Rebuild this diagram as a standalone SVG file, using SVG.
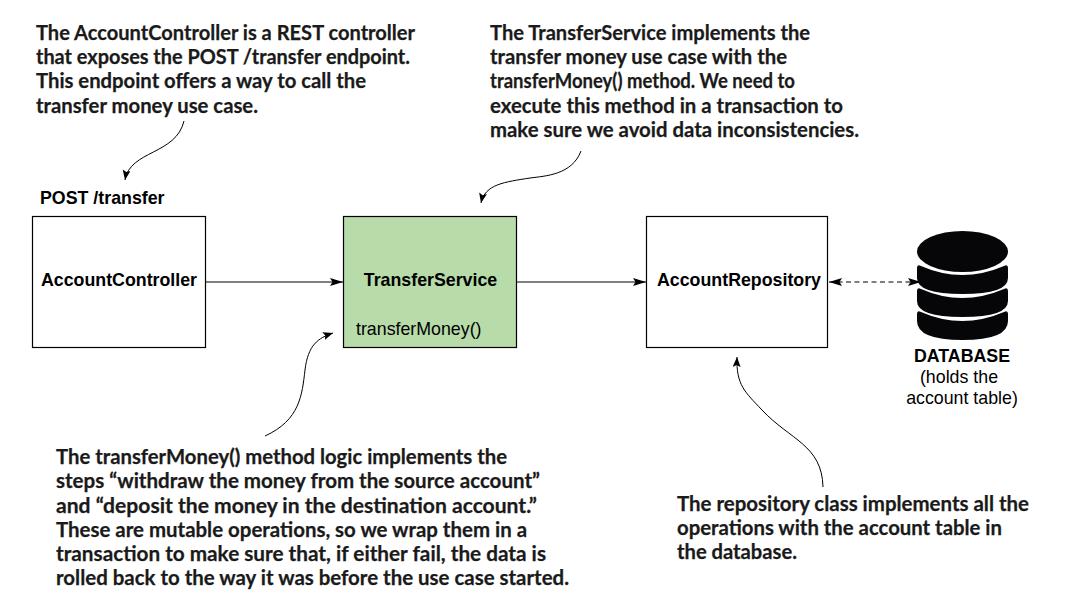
<svg xmlns="http://www.w3.org/2000/svg" width="1076" height="602" viewBox="0 0 1076 602">
<style>
.note{font-family:"Lato","Open Sans",sans-serif;font-weight:700;font-size:21px;fill:#1a1a1a;stroke:#1a1a1a;stroke-width:.25}
.lab{font-family:"Liberation Sans",Arial,sans-serif;font-size:17.800px;fill:#000}
.b{font-weight:700}
.box{stroke:#000;stroke-width:1.2;fill:#fff}
.c{fill:none;stroke:#000;stroke-width:1}
.d{fill:none;stroke:#000;stroke-width:1.200;stroke-dasharray:5 3.500}
.db{fill:#060608}
</style>
<defs>
<marker id="a" markerUnits="userSpaceOnUse" markerWidth="14" markerHeight="10" refX="13" refY="4" orient="auto"><path d="M0 0L13 4L0 8L2.500 4Z" fill="#000"/></marker>
<marker id="s" markerUnits="userSpaceOnUse" markerWidth="15" markerHeight="10" refX="1" refY="4" orient="auto"><path d="M14 0L1 4L14 8L11.500 4Z" fill="#000"/></marker>
<marker id="t" markerUnits="userSpaceOnUse" markerWidth="12" markerHeight="10" refX="10" refY="4" orient="auto"><path d="M0 0L10 4L0 8L2 4Z" fill="#000"/></marker>
</defs>
<g id="connectors">
<path class="c" d="M206 282H343" marker-end="url(#a)"/>
<path class="c" d="M517 282H646" marker-end="url(#a)"/>
<path class="c" d="M184 121C176 155 130 150 125 180" marker-end="url(#t)"/>
<path class="c" d="M581 151C572 175 545 176 530 178C505 182 485 184 481 203" marker-end="url(#t)"/>
<path class="c" d="M265 436C300 420 302 395 305 370C308 345 318 338 333 333" marker-end="url(#t)"/>
<path class="c" d="M823 487C822 445 790 440 762 410C745 392 736 385 737 357" marker-end="url(#t)"/>
</g>
<g id="note1" class="note">
<text x="36" y="39.500" textLength="379" lengthAdjust="spacingAndGlyphs">The AccountController is a REST controller</text>
<text x="36" y="64" textLength="374" lengthAdjust="spacingAndGlyphs">that exposes the POST /transfer endpoint.</text>
<text x="36" y="88" textLength="330" lengthAdjust="spacingAndGlyphs">This endpoint offers a way to call the</text>
<text x="36" y="112.500" textLength="222" lengthAdjust="spacingAndGlyphs">transfer money use case.</text>
</g>
<g id="note2" class="note">
<text x="490" y="39.500" textLength="320" lengthAdjust="spacingAndGlyphs">The TransferService implements the</text>
<text x="490" y="64" textLength="297" lengthAdjust="spacingAndGlyphs">transfer money use case with the</text>
<text x="490" y="88" textLength="305" lengthAdjust="spacingAndGlyphs">transferMoney() method. We need to</text>
<text x="490" y="112.500" textLength="353" lengthAdjust="spacingAndGlyphs">execute this method in a transaction to</text>
<text x="490" y="137" textLength="369" lengthAdjust="spacingAndGlyphs">make sure we avoid data inconsistencies.</text>
</g>
<g id="note3" class="note">
<text x="56" y="464" textLength="451" lengthAdjust="spacingAndGlyphs">The transferMoney() method logic implements the</text>
<text x="56" y="488" textLength="484" lengthAdjust="spacingAndGlyphs">steps “withdraw the money from the source account”</text>
<text x="56" y="512.500" textLength="481" lengthAdjust="spacingAndGlyphs">and “deposit the money in the destination account.”</text>
<text x="56" y="537" textLength="471" lengthAdjust="spacingAndGlyphs">These are mutable operations, so we wrap them in a</text>
<text x="56" y="561" textLength="490" lengthAdjust="spacingAndGlyphs">transaction to make sure that, if either fail, the data is</text>
<text x="56" y="585" textLength="513" lengthAdjust="spacingAndGlyphs">rolled back to the way it was before the use case started.</text>
</g>
<g id="note4" class="note">
<text x="677" y="510.500" textLength="352" lengthAdjust="spacingAndGlyphs">The repository class implements all the</text>
<text x="677" y="534.500" textLength="325" lengthAdjust="spacingAndGlyphs">operations with the account table in</text>
<text x="677" y="558.500" textLength="120" lengthAdjust="spacingAndGlyphs">the database.</text>
</g>
<g id="AccountController">
<rect class="box" x="32.500" y="216.500" width="173" height="131"/>
<text class="lab b" x="119" y="286" text-anchor="middle">AccountController</text>
<text class="lab b" x="40" y="204">POST /transfer</text>
</g>
<g id="TransferService">
<rect class="box" x="343.500" y="216.500" width="173" height="131" style="fill:#b7dba9"/>
<text class="lab b" x="430.500" y="286" text-anchor="middle">TransferService</text>
<text class="lab" x="356" y="335">transferMoney()</text>
</g>
<g id="AccountRepository">
<rect class="box" x="646.500" y="216.500" width="181" height="131"/>
<text class="lab b" x="739" y="286" text-anchor="middle">AccountRepository</text>
</g>
<g id="Database">
<ellipse class="db" cx="962.500" cy="251.500" rx="45.500" ry="20.500"/>
<path class="db" d="M917 268Q917 264 921 266Q962 284 1004 266Q1008 264 1008 268V278Q1008 294 962.500 294Q917 294 917 278Z"/>
<path class="db" d="M917 291Q917 287 921 289Q962 307 1004 289Q1008 287 1008 291V301Q1008 317 962.500 317Q917 317 917 301Z"/>
<path class="db" d="M917 314Q917 310 921 312Q962 330 1004 312Q1008 310 1008 314V321Q1008 340 962.500 340Q917 340 917 321Z"/>
<text class="lab b" x="962" y="362" text-anchor="middle">DATABASE</text>
<text class="lab" x="959" y="383" text-anchor="middle">(holds the</text>
<text class="lab" x="962" y="404" text-anchor="middle">account table)</text>
</g>
<path class="d" d="M829 282H921" marker-start="url(#s)" marker-end="url(#a)"/>
</svg>
